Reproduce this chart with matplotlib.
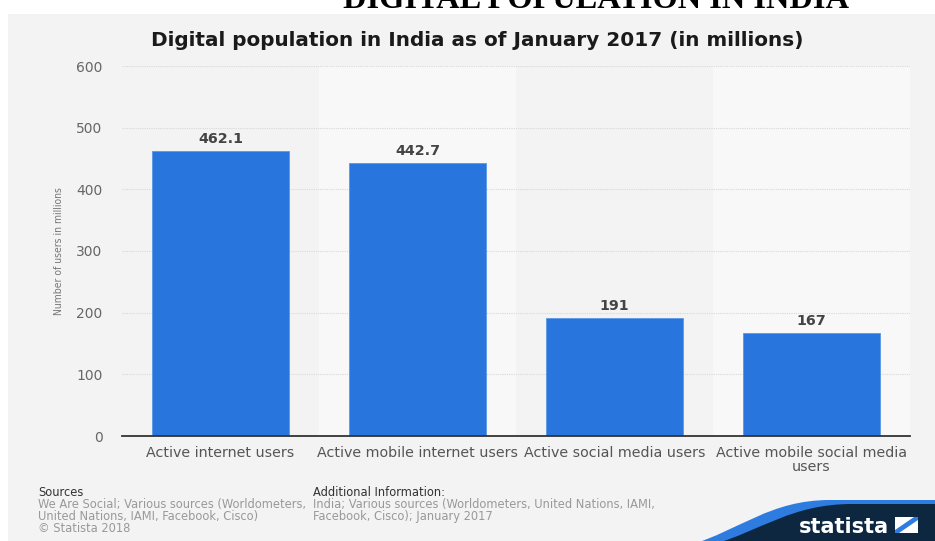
import matplotlib
matplotlib.use("Agg")
import matplotlib.pyplot as plt
from matplotlib.patches import Rectangle, Polygon
from matplotlib.path import Path
from matplotlib.patches import PathPatch
import numpy as np

categories = [
    "Active internet users",
    "Active mobile internet users",
    "Active social media users",
    "Active mobile social media\nusers",
]
values = [462.1, 442.7, 191, 167]
value_labels = ["462.1", "442.7", "191", "167"]
y_ticks = [0, 100, 200, 300, 400, 500, 600]

W, H = 935, 541
fig = plt.figure(figsize=(W / 100, H / 100), dpi=100)
fig.patch.set_facecolor("white")

def fx(px):
    return px / W

def fy(py):
    return 1 - py / H

# grey panel below the page header
fig.patches.append(Rectangle((fx(8), 0), 1 - fx(8), fy(14), transform=fig.transFigure,
                             facecolor="#f3f3f3", edgecolor="none", zorder=-5))

# page header, cut by the top edge
fig.text(fx(343), fy(8), "DIGITAL POPULATION IN INDIA", family="Liberation Serif",
         fontweight="bold", fontsize=23.3, color="black", ha="left", va="baseline", zorder=-4)

ax = fig.add_axes([fx(122), fy(436), fx(910) - fx(122), fy(66) - fy(436)])
ax.set_facecolor("#f3f3f3")
x = np.arange(len(categories))

for i in x:
    if i % 2 == 1:
        ax.axvspan(i - 0.5, i + 0.5, color="#f8f8f8", zorder=0, lw=0)

for yv in y_ticks[1:]:
    ax.axhline(yv, color="#d8d8d8", lw=0.8, ls=(0, (1, 1)), zorder=1)

bars = ax.bar(x, values, width=0.7, color="#2876dd", edgecolor="#5a98e6", linewidth=0.6, zorder=2)
for b, lab in zip(bars, value_labels):
    ax.annotate(lab, (b.get_x() + b.get_width() / 2, b.get_height()), xytext=(0, 3.5),
                textcoords="offset points", ha="center", va="bottom", fontsize=10.3,
                fontweight="bold", color="#444444")

ax.set_xlim(-0.5, len(categories) - 0.5)
ax.set_ylim(0, 600)
ax.set_yticks(y_ticks)
ax.set_yticklabels([str(v) for v in y_ticks])
ax.set_xticks(x)
ax.set_xticklabels(categories, linespacing=1.0)
ax.tick_params(axis="y", length=0, pad=14, labelsize=10, labelcolor="#666666")
ax.tick_params(axis="x", length=0, pad=7, labelsize=10.3, labelcolor="#555555")
for s in ["top", "right", "left"]:
    ax.spines[s].set_visible(False)
ax.spines["bottom"].set_color("#333333")
ax.spines["bottom"].set_linewidth(1.3)
ax.spines["bottom"].set_zorder(3)

ax.set_ylabel("Number of users in millions", fontsize=7.5, color="#777777",
              fontstretch="condensed", labelpad=9)

fig.text(0.5 + fx(10), fy(46), "Digital population in India as of January 2017 (in millions)",
         ha="center", va="baseline", fontsize=14.4, fontweight="bold", color="#1a1a1a")

# footer notes
foot = dict(fontsize=9.2, fontstretch="condensed", va="baseline", ha="left")
fig.text(fx(38), fy(496), "Sources", color="#333333", **foot)
fig.text(fx(38), fy(508), "We Are Social; Various sources (Worldometers,", color="#999999", **foot)
fig.text(fx(38), fy(520), "United Nations, IAMI, Facebook, Cisco)", color="#999999", **foot)
fig.text(fx(38), fy(532), "\u00a9 Statista 2018", color="#999999", **foot)
fig.text(fx(313), fy(496), "Additional Information:", color="#333333", **foot)
fig.text(fx(313), fy(508), "India; Various sources (Worldometers, United Nations, IAMI,", color="#999999", **foot)
fig.text(fx(313), fy(520), "Facebook, Cisco); January 2017", color="#999999", **foot)

# brand badge in the lower right corner
def wave(y_top, x0):
    codes = [Path.MOVETO]
    verts = [(fx(x0), fy(545))]
    verts += [(fx(x0 + 50), fy(530)), (fx(x0 + 80), fy(y_top)), (fx(x0 + 140), fy(y_top))]
    codes += [Path.CURVE4] * 3
    verts += [(fx(940), fy(y_top)), (fx(940), fy(545)), (fx(x0), fy(545))]
    codes += [Path.LINETO, Path.LINETO, Path.CLOSEPOLY]
    return Path(verts, codes)

fig.patches.append(PathPatch(wave(500, 690), transform=fig.transFigure,
                             facecolor="#2e7ce0", edgecolor="none", zorder=5))
fig.patches.append(PathPatch(wave(504, 712), transform=fig.transFigure,
                             facecolor="#0d2740", edgecolor="none", zorder=6))
fig.text(fx(844), fy(527), "statista", color="white", fontsize=15, fontweight="bold",
         ha="center", va="center", zorder=7)
fig.patches.append(Polygon([(fx(895), fy(533)), (fx(918), fy(533)), (fx(918), fy(517)),
                            (fx(895), fy(517))], closed=True, transform=fig.transFigure,
                           facecolor="white", edgecolor="none", zorder=7))
fig.patches.append(Polygon([(fx(895), fy(530)), (fx(914), fy(517)), (fx(918), fy(517)),
                            (fx(918), fy(520)), (fx(899), fy(533)), (fx(895), fy(533))],
                           closed=True, transform=fig.transFigure,
                           facecolor="#2e7ce0", edgecolor="none", zorder=8))

fig.savefig("out.png", dpi=100, facecolor=fig.get_facecolor())
